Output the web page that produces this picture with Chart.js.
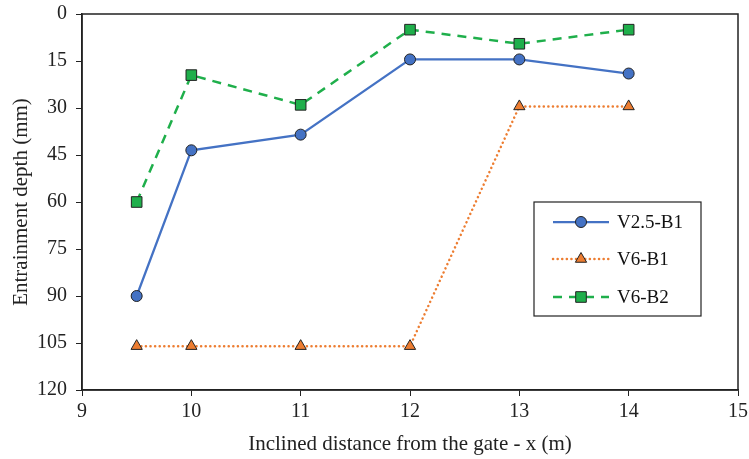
<!DOCTYPE html>
<html>
<head>
<meta charset="utf-8">
<script src="https://cdn.jsdelivr.net/npm/chart.js@4.4.0/dist/chart.umd.min.js"></script>
<style>
  html, body { margin: 0; padding: 0; background: #fff; }
</style>
</head>
<body>
<canvas id="myChart" width="749" height="459"></canvas>
<script>
// distances along the incline (m)
const xValues = [9.5, 10, 11, 12, 13, 14];
// entrainment depth (mm) per run
const v25b1 = [90, 43.5, 38.5, 14.5, 14.5, 19];
const v6b1 = [106, 106, 106, 106, 29.5, 29.5];
const v6b2 = [60, 19.5, 29, 5, 9.5, 5];
const seriesNames = ['V2.5-B1', 'V6-B1', 'V6-B2'];

const toPoints = ys => ys.map((y, i) => ({ x: xValues[i], y }));
const serif = 'Liberation Serif, Times New Roman, serif';

// frame around the plot + legend box inside the plot
const frameAndLegend = {
    id: 'frameAndLegend',
    afterDraw(chart) {
        const { ctx, chartArea: a } = chart;
        ctx.save();
        ctx.strokeStyle = '#222';
        ctx.lineWidth = 1.5;
        ctx.strokeRect(a.left, a.top, a.right - a.left, a.bottom - a.top);

        // legend
        const bx = 534, by = 202, bw = 167, bh = 114;
        ctx.lineWidth = 1.2;
        ctx.fillStyle = '#fff';
        ctx.fillRect(bx, by, bw, bh);
        ctx.strokeRect(bx, by, bw, bh);
        const rows = [222, 259, 297];
        chart.data.datasets.forEach((ds, i) => {
            const y = rows[i];
            ctx.save();
            ctx.strokeStyle = ds.borderColor;
            ctx.lineWidth = ds.borderWidth;
            ctx.lineCap = ds.borderCapStyle || 'butt';
            ctx.setLineDash(ds.borderDash || []);
            ctx.beginPath();
            ctx.moveTo(553, y);
            ctx.lineTo(609, y);
            ctx.stroke();
            ctx.restore();
            ctx.save();
            ctx.fillStyle = ds.pointBackgroundColor;
            ctx.strokeStyle = ds.pointBorderColor;
            ctx.lineWidth = ds.pointBorderWidth;
            Chart.helpers.drawPoint(ctx, {
                pointStyle: ds.pointStyle,
                radius: ds.pointRadius,
                rotation: 0,
                borderWidth: ds.pointBorderWidth
            }, 581, y);
            ctx.restore();
            ctx.fillStyle = '#111';
            ctx.font = '19px ' + serif;
            ctx.textBaseline = 'middle';
            ctx.fillText(ds.label, 617, y + 1);
        });
        ctx.restore();
    }
};

const ctx = document.getElementById('myChart');
const myChart = new Chart(ctx, {
    type: 'line',
    data: {
        datasets: [
            {
                label: seriesNames[0],
                data: toPoints(v25b1),
                borderColor: '#4472C4',
                borderWidth: 2.25,
                pointStyle: 'circle',
                pointRadius: 5.5,
                pointBackgroundColor: '#4472C4',
                pointBorderColor: '#222',
                pointBorderWidth: 1,
            },
            {
                label: seriesNames[1],
                data: toPoints(v6b1),
                borderColor: '#ED7D31',
                borderWidth: 2.5,
                borderDash: [0.1, 4.5],
                borderCapStyle: 'round',
                pointStyle: 'triangle',
                pointRadius: 6.5,
                pointBackgroundColor: '#ED7D31',
                pointBorderColor: '#222',
                pointBorderWidth: 1,
            },
            {
                label: seriesNames[2],
                data: toPoints(v6b2),
                borderColor: '#1FAF4B',
                borderWidth: 2.5,
                borderDash: [9, 7],
                pointStyle: 'rect',
                pointRadius: 7.5,
                pointBackgroundColor: '#1FAF4B',
                pointBorderColor: '#222',
                pointBorderWidth: 1,
            },
        ]
    },
    options: {
        responsive: false,
        animation: false,
        layout: {
            padding: { top: 14, right: 11, left: 0, bottom: 0 },
        },
        plugins: {
            legend: { display: false },
            title: { display: false },
            tooltip: { enabled: false },
        },
        scales: {
            x: {
                type: 'linear',
                min: 9,
                max: 15,
                ticks: {
                    stepSize: 1,
                    color: '#222',
                    font: { family: serif, size: 20 },
                    padding: 4,
                },
                grid: {
                    display: true,
                    drawOnChartArea: false,
                    tickLength: 6,
                    color: '#222',
                },
                border: { color: '#222', width: 1.5 },
                title: {
                    display: true,
                    text: 'Inclined distance from the gate - x (m)',
                    color: '#222',
                    font: { family: serif, size: 21 },
                    padding: { top: 0, bottom: 2 },
                },
                afterFit(scale) {
                    scale.height = 69;
                    scale.paddingLeft = 0;
                    scale.paddingRight = 0;
                },
            },
            y: {
                reverse: true,
                min: 0,
                max: 120,
                ticks: {
                    stepSize: 15,
                    color: '#222',
                    font: { family: serif, size: 20 },
                    padding: 9,
                },
                grid: {
                    display: true,
                    drawOnChartArea: false,
                    tickLength: 6,
                    color: '#222',
                },
                border: { color: '#222', width: 1.5 },
                title: {
                    display: true,
                    text: 'Entrainment depth (mm)',
                    color: '#222',
                    font: { family: serif, size: 21 },
                    padding: { top: 9, bottom: 0 },
                },
                afterFit(scale) {
                    scale.width = 82;
                    scale.paddingTop = 0;
                    scale.paddingBottom = 0;
                },
            }
        }
    },
    plugins: [frameAndLegend],
});
</script>
</body>
</html>
